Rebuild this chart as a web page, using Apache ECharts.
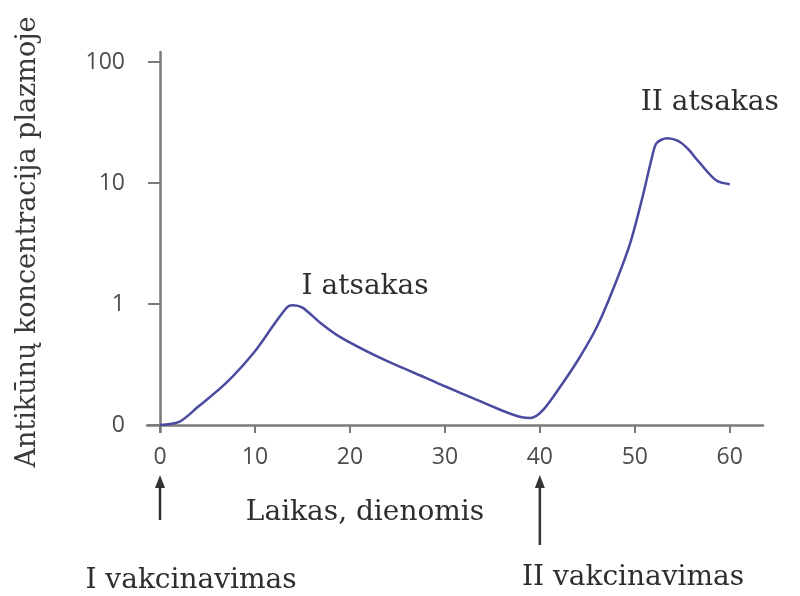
<!DOCTYPE html>
<html>
<head>
<meta charset="utf-8">
<script src="https://cdn.jsdelivr.net/npm/echarts@6/dist/echarts.min.js"></script>
<style>
  html, body { margin: 0; padding: 0; background: #fff; }
  #chart { width: 800px; height: 596px; }
</style>
</head>
<body>
<div id="chart"></div>
<script>
// days since first vaccination
var days = [0, 2, 4, 7, 10, 12, 13.4, 14, 15, 16.8, 18.9, 22, 25, 28, 30, 33, 36, 38, 39, 40.3, 42.4, 44.2, 46, 47.7, 49.5, 50.8, 51.8, 52.3, 53.4, 54.5, 55.5, 56.8, 58.6, 60]
// curve height in axis steps (0 -> "0", 1 -> "1", 2 -> "10", 3 -> "100")
var level = [0, 0.025, 0.15, 0.35, 0.61, 0.83, 0.975, 0.99, 0.97, 0.85, 0.73, 0.60, 0.49, 0.39, 0.32, 0.22, 0.12, 0.066, 0.058, 0.12, 0.345, 0.56, 0.81, 1.12, 1.50, 1.88, 2.21, 2.33, 2.37, 2.35, 2.29, 2.17, 2.02, 1.99]
var yTickLabels = ['0', '1', '10', '100']
var yTicks = [0, 1, 2, 3]
var xTicks = [0, 10, 20, 30, 40, 50, 60]
var vaccinationDays = [0, 40]
var vaccinationNames = ['I vakcinavimas', 'II vakcinavimas']
var responseNames = ['I atsakas', 'II atsakas']
var responseAnchors = [[21.6, 1.14], [57.9, 2.66]]

var chart = echarts.init(document.getElementById('chart'))
var serif = '"DejaVu Serif", "Liberation Serif", serif'
var axisColor = '#7a7a7a'

chart.setOption({
  animation: false,
  grid: { left: 147, right: 37, top: 52, bottom: 164, containLabel: false, outerBoundsMode: 'none' },
  xAxis: {
    type: 'value',
    min: -1.37,
    max: 63.5,
    splitLine: { show: false },
    axisLine: { onZero: true, lineStyle: { color: axisColor, width: 2.5 } },
    axisTick: { customValues: xTicks, length: 8, lineStyle: { color: axisColor, width: 2 } },
    axisLabel: {
      customValues: xTicks,
      color: '#4d4d4d',
      fontSize: 23,
      fontFamily: '"Open Sans", sans-serif',
      margin: 14
    }
  },
  yAxis: {
    type: 'value',
    min: -0.058,
    max: 3.083,
    splitLine: { show: false },
    axisLine: { onZero: true, lineStyle: { color: axisColor, width: 2.5 } },
    axisTick: { customValues: yTicks, length: 12, lineStyle: { color: axisColor, width: 2 } },
    axisLabel: {
      customValues: yTicks,
      formatter: function (v) { return yTickLabels[Math.round(v)] },
      color: '#4d4d4d',
      fontSize: 23,
      fontFamily: '"Open Sans", sans-serif',
      margin: 22
    },
    name: 'Antikūnų koncentracija plazmoje',
    nameLocation: 'middle',
    nameRotate: 90,
    nameGap: 106,
    nameTextStyle: { color: '#3a3a3a', fontSize: 27, fontFamily: serif }
  },
  series: [{
    type: 'line',
    data: days.map(function (d, i) { return [d, level[i]] }),
    smooth: 0.3,
    showSymbol: false,
    clip: false,
    lineStyle: { color: '#4a4a9e', width: 2.5 }
  }]
})

// captions and arrows, placed from data positions
var graphics = []
responseAnchors.forEach(function (c, i) {
  var p = chart.convertToPixel({ gridIndex: 0 }, c)
  graphics.push({
    type: 'text',
    x: p[0],
    y: p[1],
    style: {
      text: responseNames[i],
      fill: '#2e2e2e',
      font: '28px ' + serif,
      align: 'center',
      verticalAlign: 'middle'
    }
  })
})
vaccinationDays.forEach(function (d, i) {
  var x = chart.convertToPixel({ xAxisIndex: 0 }, d)
  var bottom = i === 0 ? 520 : 545
  graphics.push({
    type: 'line',
    shape: { x1: x, y1: bottom, x2: x, y2: 484 },
    style: { stroke: '#333', lineWidth: 2.5 }
  })
  graphics.push({
    type: 'polygon',
    shape: { points: [[x - 5, 488], [x + 5, 488], [x, 475]] },
    style: { fill: '#333' }
  })
  graphics.push({
    type: 'text',
    x: i === 0 ? 191 : 633,
    y: i === 0 ? 581 : 578,
    style: {
      text: vaccinationNames[i],
      fill: '#2e2e2e',
      font: '28px ' + serif,
      align: 'center',
      verticalAlign: 'middle'
    }
  })
})
graphics.push({
  type: 'text',
  x: 365,
  y: 513,
  style: {
    text: 'Laikas, dienomis',
    fill: '#2e2e2e',
    font: '28px ' + serif,
    align: 'center',
    verticalAlign: 'middle'
  }
})
chart.setOption({ graphic: graphics })
</script>
</body>
</html>
